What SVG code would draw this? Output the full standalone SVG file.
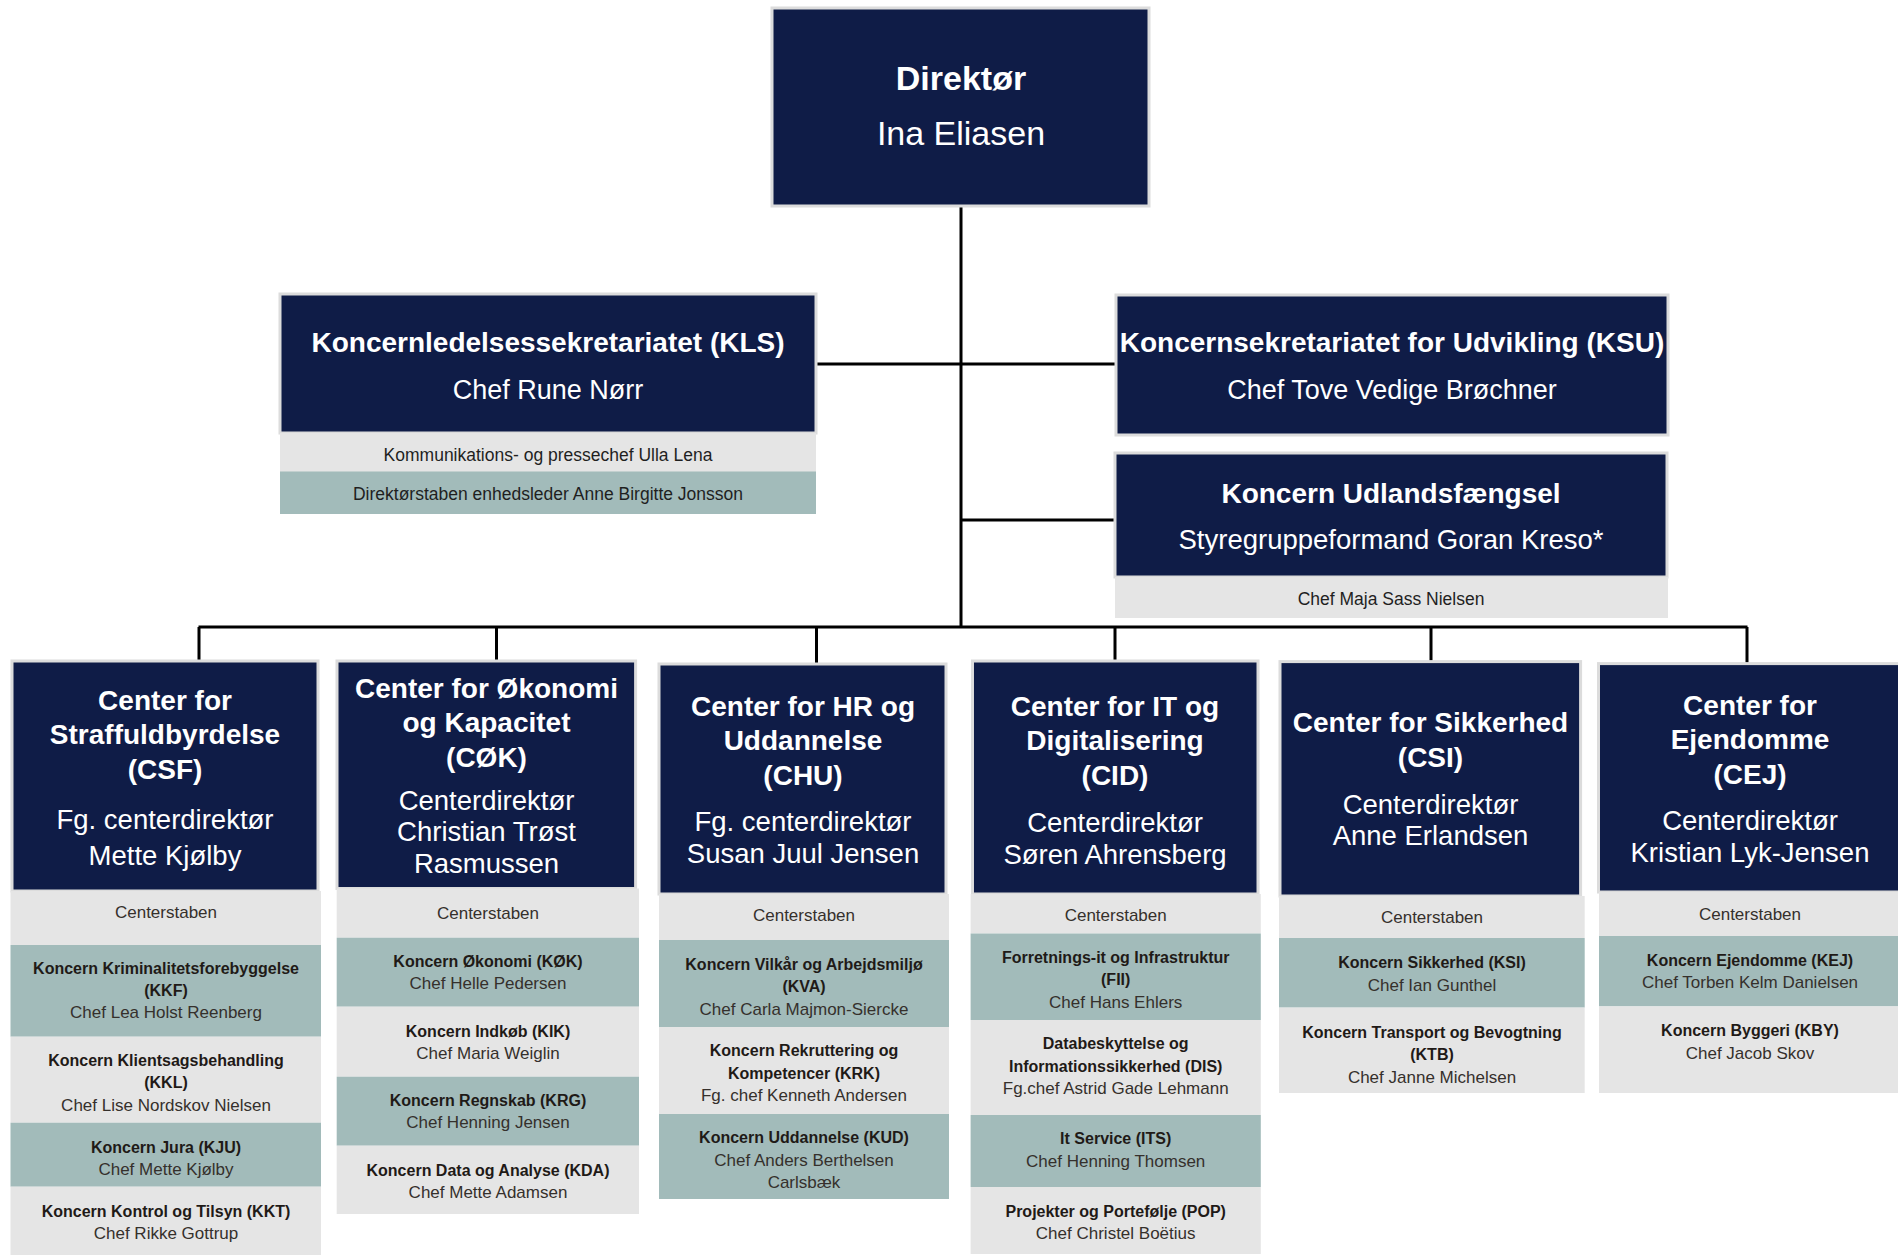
<svg xmlns="http://www.w3.org/2000/svg" width="1898" height="1257" viewBox="0 0 1898 1257">
<style>
.nv{fill:#0f1c47;stroke:#dcdcdc;stroke-width:3}
.gy{fill:#e5e5e5}
.tl{fill:#a2bbba}
text{font-family:"Liberation Sans",Arial,sans-serif;text-anchor:middle}
.t{font-weight:bold;font-size:34px;fill:#fff}
.tn{font-size:34px;fill:#fff}
.h{font-weight:bold;font-size:28px;fill:#fff}
.s{font-size:27.5px;fill:#fff}
.b{font-weight:bold;font-size:16px;fill:#1f1a17}
.r{font-size:17px;fill:#35302c}
.rs{font-size:17.5px;fill:#1f1f1f}
.cn{stroke:#000;stroke-width:3;fill:none}
</style>
<rect width="1898" height="1257" fill="#fff"/>
<g id="connectors">
<path class="cn" d="M961 207V627"/>
<path class="cn" d="M816 364H1116"/>
<path class="cn" d="M961 520H1115"/>
<path class="cn" d="M198.5 627H1747.5"/>
<path class="cn" d="M199 627V660M496.5 627V660M816.5 627V663M1115 627V660M1431 627V661M1747 627V663"/>
</g>
<g id="direktor">
<rect class="nv" x="772" y="8" width="377" height="198"/>
<text class="t" x="961" y="89.5">Direktør</text>
<text class="tn" x="961" y="145">Ina Eliasen</text>
</g>
<g id="kls">
<rect class="nv" x="280" y="294" width="536" height="139"/>
<rect class="gy" x="280" y="433" width="536" height="39"/>
<rect class="tl" x="280" y="471.5" width="536" height="42.5"/>
<text class="h" x="548" y="351.5">Koncernledelsessekretariatet (KLS)</text>
<text class="s" x="548" y="398.5" style="font-size:27px">Chef Rune Nørr</text>
<text class="rs" x="548" y="461">Kommunikations- og pressechef Ulla Lena</text>
<text class="rs" x="548" y="500">Direktørstaben enhedsleder Anne Birgitte Jonsson</text>
</g>
<g id="ksu">
<rect class="nv" x="1116" y="295" width="552" height="140"/>
<text class="h" x="1392" y="351.5">Koncernsekretariatet for Udvikling (KSU)</text>
<text class="s" x="1392" y="398.5" style="font-size:27px">Chef Tove Vedige Brøchner</text>
</g>
<g id="kuf">
<rect class="nv" x="1115" y="453" width="552" height="124"/>
<rect class="gy" x="1115" y="577" width="553" height="41"/>
<text class="h" x="1391" y="503">Koncern Udlandsfængsel</text>
<text class="s" x="1391" y="549">Styregruppeformand Goran Kreso*</text>
<text class="rs" x="1391" y="604.5">Chef Maja Sass Nielsen</text>
</g>
<g id="csf">
<rect class="nv" x="12" y="661" width="306" height="230"/>
<rect class="gy" x="10.5" y="891" width="310.5" height="54"/>
<rect class="tl" x="10.5" y="945" width="310.5" height="91.7"/>
<rect class="gy" x="10.5" y="1036.7" width="310.5" height="86"/>
<rect class="tl" x="10.5" y="1122.7" width="310.5" height="64"/>
<rect class="gy" x="10.5" y="1186.7" width="310.5" height="68.3"/>
<text class="h" x="165" y="709.6">Center for</text>
<text class="h" x="165" y="744">Straffuldbyrdelse</text>
<text class="h" x="165" y="779">(CSF)</text>
<text class="s" x="165" y="828.5">Fg. centerdirektør</text>
<text class="s" x="165" y="864.5">Mette Kjølby</text>
<text class="r" x="166" y="918">Centerstaben</text>
<text class="b" x="166" y="973.5">Koncern Kriminalitetsforebyggelse</text>
<text class="b" x="166" y="995.5">(KKF)</text>
<text class="r" x="166" y="1017.5">Chef Lea Holst Reenberg</text>
<text class="b" x="166" y="1065.6">Koncern Klientsagsbehandling</text>
<text class="b" x="166" y="1088.3">(KKL)</text>
<text class="r" x="166" y="1110.5">Chef Lise Nordskov Nielsen</text>
<text class="b" x="166" y="1152.8">Koncern Jura (KJU)</text>
<text class="r" x="166" y="1175">Chef Mette Kjølby</text>
<text class="b" x="166" y="1217.2">Koncern Kontrol og Tilsyn (KKT)</text>
<text class="r" x="166" y="1239">Chef Rikke Gottrup</text>
</g>
<g id="cok">
<rect class="nv" x="337" y="661" width="298.6" height="227.5"/>
<rect class="gy" x="336.7" y="888.5" width="302.3" height="49.2"/>
<rect class="tl" x="336.7" y="937.7" width="302.3" height="69"/>
<rect class="gy" x="336.7" y="1006.7" width="302.3" height="70"/>
<rect class="tl" x="336.7" y="1076.7" width="302.3" height="69"/>
<rect class="gy" x="336.7" y="1145.7" width="302.3" height="68.3"/>
<text class="h" x="486.5" y="698">Center for Økonomi</text>
<text class="h" x="486.5" y="732">og Kapacitet</text>
<text class="h" x="486.5" y="767">(CØK)</text>
<text class="s" x="486.5" y="809.5">Centerdirektør</text>
<text class="s" x="486.5" y="841">Christian Trøst</text>
<text class="s" x="486.5" y="873">Rasmussen</text>
<text class="r" x="488" y="919">Centerstaben</text>
<text class="b" x="488" y="967.3">Koncern Økonomi (KØK)</text>
<text class="r" x="488" y="989.3">Chef Helle Pedersen</text>
<text class="b" x="488" y="1037.3">Koncern Indkøb (KIK)</text>
<text class="r" x="488" y="1059.3">Chef Maria Weiglin</text>
<text class="b" x="488" y="1106.3">Koncern Regnskab (KRG)</text>
<text class="r" x="488" y="1128.3">Chef Henning Jensen</text>
<text class="b" x="488" y="1175.6">Koncern Data og Analyse (KDA)</text>
<text class="r" x="488" y="1197.7">Chef Mette Adamsen</text>
</g>
<g id="chu">
<rect class="nv" x="659" y="664" width="287" height="230"/>
<rect class="gy" x="659" y="894" width="290" height="46"/>
<rect class="tl" x="659" y="940" width="290" height="87"/>
<rect class="gy" x="659" y="1027" width="290" height="87"/>
<rect class="tl" x="659" y="1114" width="290" height="85"/>
<text class="h" x="803" y="715.7">Center for HR og</text>
<text class="h" x="803" y="750">Uddannelse</text>
<text class="h" x="803" y="785">(CHU)</text>
<text class="s" x="803" y="830.7">Fg. centerdirektør</text>
<text class="s" x="803" y="863.4">Susan Juul Jensen</text>
<text class="r" x="804" y="921">Centerstaben</text>
<text class="b" x="804" y="969.8">Koncern Vilkår og Arbejdsmiljø</text>
<text class="b" x="804" y="992.3">(KVA)</text>
<text class="r" x="804" y="1015">Chef Carla Majmon-Siercke</text>
<text class="b" x="804" y="1056.3">Koncern Rekruttering og</text>
<text class="b" x="804" y="1078.8">Kompetencer (KRK)</text>
<text class="r" x="804" y="1100.7">Fg. chef Kenneth Andersen</text>
<text class="b" x="804" y="1142.8">Koncern Uddannelse (KUD)</text>
<text class="r" x="804" y="1165.7">Chef Anders Berthelsen</text>
<text class="r" x="804" y="1188">Carlsbæk</text>
</g>
<g id="cid">
<rect class="nv" x="972.5" y="661" width="285.5" height="233"/>
<rect class="gy" x="970.6" y="894" width="290.2" height="39.5"/>
<rect class="tl" x="970.6" y="933.5" width="290.2" height="86.5"/>
<rect class="gy" x="970.6" y="1020" width="290.2" height="95"/>
<rect class="tl" x="970.6" y="1115" width="290.2" height="72"/>
<rect class="gy" x="970.6" y="1187" width="290.2" height="67"/>
<text class="h" x="1115" y="715.7">Center for IT og</text>
<text class="h" x="1115" y="750">Digitalisering</text>
<text class="h" x="1115" y="785">(CID)</text>
<text class="s" x="1115" y="832">Centerdirektør</text>
<text class="s" x="1115" y="864">Søren Ahrensberg</text>
<text class="r" x="1115.7" y="921">Centerstaben</text>
<text class="b" x="1115.7" y="962.5">Forretnings-it og Infrastruktur</text>
<text class="b" x="1115.7" y="984.8">(FII)</text>
<text class="r" x="1115.7" y="1007.7">Chef Hans Ehlers</text>
<text class="b" x="1115.7" y="1049.4">Databeskyttelse og</text>
<text class="b" x="1115.7" y="1071.8">Informationssikkerhed (DIS)</text>
<text class="r" x="1115.7" y="1094">Fg.chef Astrid Gade Lehmann</text>
<text class="b" x="1115.7" y="1143.8">It Service (ITS)</text>
<text class="r" x="1115.7" y="1166.8">Chef Henning Thomsen</text>
<text class="b" x="1115.7" y="1216.8">Projekter og Portefølje (POP)</text>
<text class="r" x="1115.7" y="1239">Chef Christel Boëtius</text>
</g>
<g id="csi">
<rect class="nv" x="1280" y="661.6" width="300.6" height="234.4"/>
<rect class="gy" x="1279" y="896" width="305.7" height="42"/>
<rect class="tl" x="1279" y="938" width="305.7" height="69.6"/>
<rect class="gy" x="1279" y="1007.6" width="305.7" height="85.4"/>
<text class="h" x="1430.5" y="732">Center for Sikkerhed</text>
<text class="h" x="1430.5" y="766.7">(CSI)</text>
<text class="s" x="1430.5" y="813.5">Centerdirektør</text>
<text class="s" x="1430.5" y="845.4">Anne Erlandsen</text>
<text class="r" x="1432" y="923">Centerstaben</text>
<text class="b" x="1432" y="967.8">Koncern Sikkerhed (KSI)</text>
<text class="r" x="1432" y="990.5">Chef Ian Gunthel</text>
<text class="b" x="1432" y="1037.8">Koncern Transport og Bevogtning</text>
<text class="b" x="1432" y="1060.4">(KTB)</text>
<text class="r" x="1432" y="1083">Chef Janne Michelsen</text>
</g>
<g id="cej">
<rect class="nv" x="1598.5" y="663.6" width="305" height="228.4"/>
<rect class="gy" x="1599" y="892" width="303" height="44"/>
<rect class="tl" x="1599" y="936" width="303" height="70.4"/>
<rect class="gy" x="1599" y="1006.4" width="303" height="86.6"/>
<text class="h" x="1750" y="714.5">Center for</text>
<text class="h" x="1750" y="749">Ejendomme</text>
<text class="h" x="1750" y="784">(CEJ)</text>
<text class="s" x="1750" y="830">Centerdirektør</text>
<text class="s" x="1750" y="861.7">Kristian Lyk-Jensen</text>
<text class="r" x="1750" y="920">Centerstaben</text>
<text class="b" x="1750" y="965.8">Koncern Ejendomme (KEJ)</text>
<text class="r" x="1750" y="988">Chef Torben Kelm Danielsen</text>
<text class="b" x="1750" y="1035.8">Koncern Byggeri (KBY)</text>
<text class="r" x="1750" y="1058.6">Chef Jacob Skov</text>
</g>
</svg>
